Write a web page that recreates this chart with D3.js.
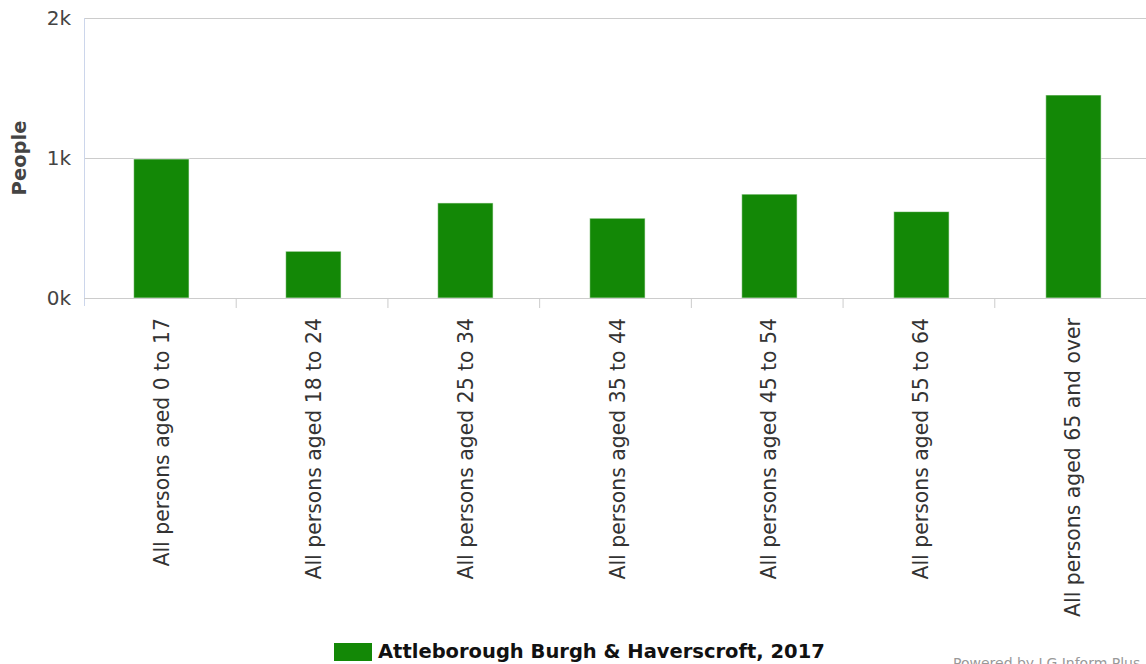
<!DOCTYPE html>
<html>
<head>
<meta charset="utf-8">
<script src="https://cdn.jsdelivr.net/npm/d3@7"></script>
<style>
    body { margin: 0; background: #fff; }
    svg { font-family: "DejaVu Sans", sans-serif; display: block; }
</style>
</head>
<body>
<script>
const categories = [
    "All persons aged 0 to 17",
    "All persons aged 18 to 24",
    "All persons aged 25 to 34",
    "All persons aged 35 to 44",
    "All persons aged 45 to 54",
    "All persons aged 55 to 64",
    "All persons aged 65 and over"
];
const values = [993, 334, 679, 570, 742, 617, 1450];
const yTicks = [0, 1000, 2000];
const seriesName = "Attleborough Burgh & Haverscroft, 2017";

const width = 1146;
const height = 664;
const margin = { top: 18, right: 0, bottom: 366, left: 84 };
const barColour = "#138806";

const svg = d3.select("body")
    .append("svg")
    .attr("width", width)
    .attr("height", height);

const x = d3.scaleBand()
    .domain(categories)
    .range([margin.left, width - margin.right])
    .padding(0);
const y = d3.scaleLinear()
    .domain([0, 2000])
    .range([height - margin.bottom, margin.top]);

// grid lines
svg.append("g")
    .selectAll("line")
    .data(yTicks)
    .join("line")
    .attr("x1", margin.left)
    .attr("x2", width - margin.right)
    .attr("y1", d => y(d) + 0.5)
    .attr("y2", d => y(d) + 0.5)
    .attr("stroke", "#cccccc");

// left axis line
svg.append("line")
    .attr("x1", margin.left + 0.5)
    .attr("x2", margin.left + 0.5)
    .attr("y1", margin.top)
    .attr("y2", y(0) + 8)
    .attr("stroke", "#ccd6eb");

// y labels
svg.append("g")
    .selectAll("text")
    .data(yTicks)
    .join("text")
    .attr("x", 71)
    .attr("y", d => y(d) + 7)
    .attr("text-anchor", "end")
    .attr("fill", "#444")
    .style("font-size", "20px")
    .text(d => `${d / 1000}k`);

svg.append("text")
    .attr("transform", `translate(26,${y(1000)}) rotate(-90)`)
    .attr("text-anchor", "middle")
    .attr("fill", "#444")
    .style("font-size", "19.5px")
    .style("font-weight", "bold")
    .text("People");

// x axis ticks
const xAxis = svg.append("g")
    .attr("transform", `translate(0,${y(0)})`)
    .call(d3.axisBottom(x).tickSize(0).tickFormat(""));
xAxis.select(".domain").remove();
xAxis.selectAll("line.sep")
    .data(categories.slice(1))
    .join("line")
    .attr("class", "sep")
    .attr("x1", d => x(d) + 0.5)
    .attr("x2", d => x(d) + 0.5)
    .attr("y1", 0)
    .attr("y2", 10)
    .attr("stroke", "#cccccc");

svg.append("g")
    .selectAll("text")
    .data(categories)
    .join("text")
    .attr("transform", d => `translate(${x(d) + x.bandwidth() / 2 + 9.5},${y(0) + 20}) rotate(-90)`)
    .attr("text-anchor", "end")
    .attr("fill", "#333")
    .style("font-size", "20.4px")
    .text(d => d);

// bars
const barW = x.bandwidth() * 0.365;
svg.append("g")
    .selectAll("rect")
    .data(values)
    .join("rect")
    .attr("x", (d, i) => x(categories[i]) + x.bandwidth() / 2 - barW / 2 + 1.5 + i * 0.3)
    .attr("y", d => y(d))
    .attr("width", barW)
    .attr("height", d => y(0) - y(d))
    .attr("fill", barColour)
    .attr("stroke", "#ffffff")
    .attr("stroke-opacity", 0.6)
    .attr("stroke-width", 1);

// bottom axis line drawn on top of bars
svg.append("line")
    .attr("x1", margin.left)
    .attr("x2", width - margin.right)
    .attr("y1", y(0) + 0.5)
    .attr("y2", y(0) + 0.5)
    .attr("stroke", "#cccccc");

// legend
const legend = svg.append("g");
legend.append("rect")
    .attr("x", 334)
    .attr("y", 643)
    .attr("width", 38)
    .attr("height", 18)
    .attr("fill", barColour);
legend.append("text")
    .attr("x", 378)
    .attr("y", 658)
    .attr("fill", "#111")
    .style("font-size", "19.5px")
    .style("font-weight", "bold")
    .text(seriesName);

svg.append("text")
    .attr("x", 953)
    .attr("y", 668)
    .attr("fill", "#999")
    .style("font-size", "14px")
    .text("Powered by LG Inform Plus");
</script>
</body>
</html>
